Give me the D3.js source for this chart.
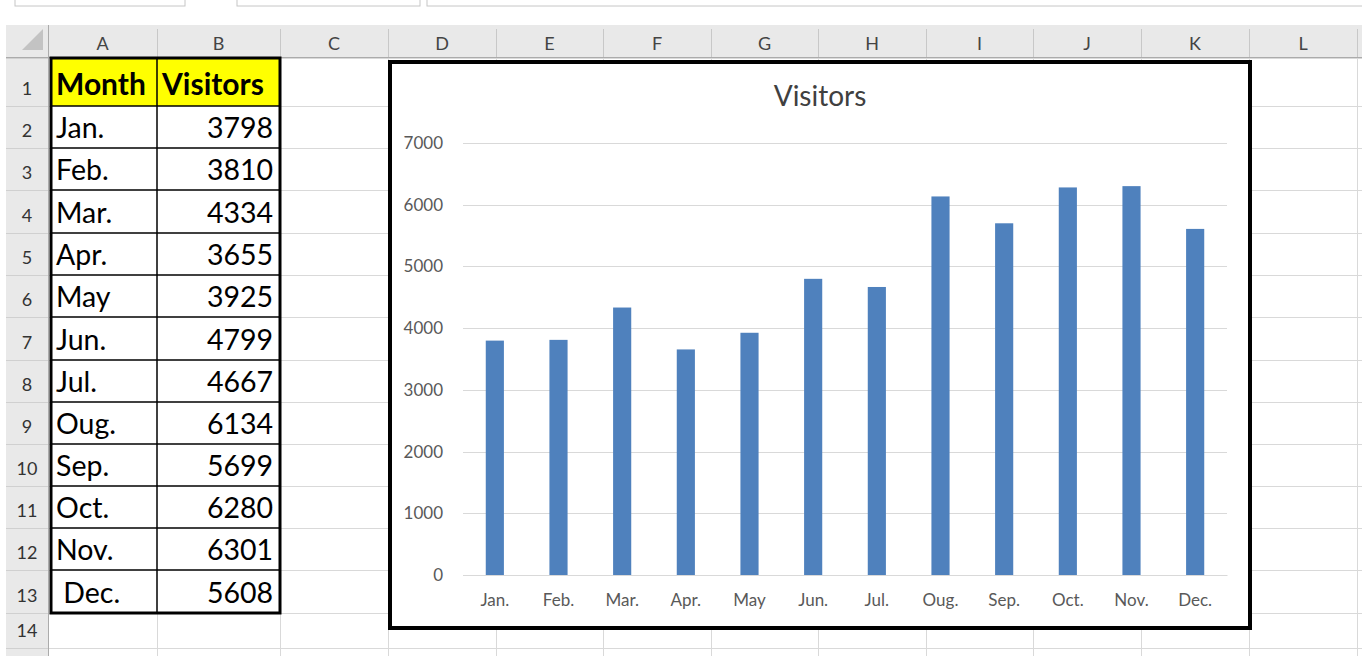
<!DOCTYPE html>
<html>
<head>
<meta charset="utf-8">
<script src="https://cdn.jsdelivr.net/npm/d3@7"></script>
<style>
  html, body { margin: 0; padding: 0; background: #ffffff; overflow: hidden; }
  svg { display: block; }
  text { font-family: Lato, "Open Sans", sans-serif; white-space: pre; }
</style>
</head>
<body>
<svg id="sheet" width="1362" height="656"></svg>
<script>
// ---------- data ----------
const months = ["Jan.", "Feb.", "Mar.", "Apr.", "May", "Jun.", "Jul.", "Oug.", "Sep.", "Oct.", "Nov.", " Dec."];
const visitors = [3798, 3810, 4334, 3655, 3925, 4799, 4667, 6134, 5699, 6280, 6301, 5608];
const yTicks = [0, 1000, 2000, 3000, 4000, 5000, 6000, 7000];
const tableHeaders = ["Month", "Visitors"];
const columnLetters = ["A", "B", "C", "D", "E", "F", "G", "H", "I", "J", "K", "L"];
const chartTitle = "Visitors";

// ---------- sheet layout ----------
const W = 1362, H = 656;
const colEdges = [48, 157, 280, 388, 496, 603, 711, 818, 926, 1033, 1141, 1249, 1357];
const rowEdges = [58, 106, 148, 190, 233, 275, 317, 360, 402, 444, 486, 528, 570, 613, 648, 690];
const headTop = 25, headBottom = 57, rowHeadLeft = 6;

const svg = d3.select("#sheet");
svg.append("rect").attr("width", W).attr("height", H).attr("fill", "#ffffff");

// formula bar boxes
const boxes = [[15, 185], [237, 420], [427, 1400]];
svg.selectAll("rect.fbox").data(boxes).join("rect")
  .attr("x", d => d[0]).attr("y", -6).attr("width", d => d[1] - d[0]).attr("height", 12)
  .attr("fill", "#ffffff").attr("stroke", "#c6c6c6").attr("stroke-width", 1);

// cell gridlines
const grid = svg.append("g").attr("stroke", "#d9d9d9").attr("stroke-width", 1);
grid.selectAll("line.h").data(rowEdges).join("line")
  .attr("x1", colEdges[0]).attr("x2", W).attr("y1", d => d + 0.5).attr("y2", d => d + 0.5);
grid.selectAll("line.v").data(colEdges.slice(1)).join("line")
  .attr("x1", d => d + 0.5).attr("x2", d => d + 0.5).attr("y1", headBottom).attr("y2", H);

// column header band
svg.append("rect").attr("x", rowHeadLeft).attr("y", headTop).attr("width", W - rowHeadLeft).attr("height", headBottom - headTop).attr("fill", "#e9e9e9");
svg.append("line").attr("x1", rowHeadLeft).attr("x2", W).attr("y1", headBottom + 0.5).attr("y2", headBottom + 0.5).attr("stroke", "#ababab");
svg.selectAll("line.ch").data(colEdges).join("line")
  .attr("x1", d => d + 0.5).attr("x2", d => d + 0.5).attr("y1", headTop + 4).attr("y2", headBottom)
  .attr("stroke", "#c8c8c8");
svg.selectAll("text.col").data(columnLetters).join("text")
  .attr("x", (d, i) => (colEdges[i] + colEdges[i + 1]) / 2).attr("y", 50)
  .attr("text-anchor", "middle").attr("font-size", 18).attr("fill", "#444444").text(d => d);

// corner triangle
svg.append("path").attr("d", "M43,29 L43,50 L22,50 Z").attr("fill", "#c3c3c3");

// row header column
svg.append("rect").attr("x", rowHeadLeft).attr("y", headBottom + 1).attr("width", colEdges[0] - rowHeadLeft).attr("height", H - headBottom).attr("fill", "#e9e9e9");
svg.append("line").attr("x1", colEdges[0] + 0.5).attr("x2", colEdges[0] + 0.5).attr("y1", headTop).attr("y2", H).attr("stroke", "#ababab");
svg.selectAll("line.rh").data(rowEdges).join("line")
  .attr("x1", rowHeadLeft).attr("x2", colEdges[0]).attr("y1", d => d + 0.5).attr("y2", d => d + 0.5)
  .attr("stroke", "#d0d0d0");
const rowNums = d3.range(1, rowEdges.length - 1);
svg.selectAll("text.rn").data(rowNums).join("text")
  .attr("x", 27).attr("y", (d, i) => rowEdges[i + 1] - 11)
  .attr("text-anchor", "middle").attr("font-size", 18).attr("fill", "#333333").text(d => d);

// ---------- data table ----------
const tX0 = 51, tX1 = colEdges[1], tX2 = colEdges[2];
const tbl = svg.append("g");
tbl.append("rect").attr("x", tX0).attr("y", rowEdges[0]).attr("width", tX2 - tX0).attr("height", rowEdges[1] - rowEdges[0]).attr("fill", "#ffff00");
tbl.append("rect").attr("x", tX0).attr("y", rowEdges[1]).attr("width", tX2 - tX0).attr("height", rowEdges[13] - rowEdges[1]).attr("fill", "#ffffff");
tbl.selectAll("line.tr").data(rowEdges.slice(1, 13)).join("line")
  .attr("x1", tX0).attr("x2", tX2).attr("y1", d => d).attr("y2", d => d)
  .attr("stroke", "#000").attr("stroke-width", 1.5);
tbl.append("line").attr("x1", tX1).attr("x2", tX1).attr("y1", rowEdges[0]).attr("y2", rowEdges[13]).attr("stroke", "#000").attr("stroke-width", 1.5);
tbl.append("rect").attr("x", tX0).attr("y", rowEdges[0]).attr("width", tX2 - tX0).attr("height", rowEdges[13] - rowEdges[0])
  .attr("fill", "none").attr("stroke", "#000").attr("stroke-width", 3);

tbl.selectAll("text.hd").data(tableHeaders).join("text")
  .attr("x", (d, i) => i === 0 ? 56 : 162).attr("y", rowEdges[1] - 11)
  .attr("font-size", 30).attr("font-weight", "bold").attr("fill", "#000").text(d => d);
tbl.selectAll("text.mo").data(months).join("text")
  .attr("x", 56).attr("y", (d, i) => rowEdges[i + 2] - 10)
  .attr("font-size", 28.5).attr("fill", "#000").text(d => d);
tbl.selectAll("text.val").data(visitors).join("text")
  .attr("x", 273).attr("y", (d, i) => rowEdges[i + 2] - 10)
  .attr("text-anchor", "end").attr("font-size", 28.5).attr("fill", "#000").text(d => d);

// ---------- chart ----------
const cx0 = 390, cy0 = 62, cx1 = 1250, cy1 = 628;
const chart = svg.append("g");
chart.append("rect").attr("x", cx0).attr("y", cy0).attr("width", cx1 - cx0).attr("height", cy1 - cy0)
  .attr("fill", "#ffffff").attr("stroke", "#000000").attr("stroke-width", 4);

const plot = { left: 463, right: 1227, top: 143, bottom: 575 };
const x = d3.scaleBand().domain(months).range([plot.left, plot.right]).paddingInner(0.715).paddingOuter(0.3575);
const y = d3.scaleLinear().domain([0, 7000]).range([plot.bottom, plot.top]);

chart.append("g").selectAll("line").data(yTicks).join("line")
  .attr("x1", plot.left).attr("x2", plot.right)
  .attr("y1", d => Math.round(y(d)) + 0.5).attr("y2", d => Math.round(y(d)) + 0.5)
  .attr("stroke", "#d9d9d9").attr("stroke-width", 1);

const yAxis = chart.append("g").attr("transform", `translate(${plot.left},0)`)
  .call(d3.axisLeft(y).tickValues(yTicks).tickSize(0).tickPadding(20).tickFormat(d3.format("d")));
yAxis.select(".domain").remove();
yAxis.selectAll("text").attr("font-family", "Lato, sans-serif").attr("font-size", 17).attr("fill", "#595959");

chart.append("g").selectAll("rect").data(visitors).join("rect")
  .attr("x", (d, i) => x(months[i])).attr("width", x.bandwidth())
  .attr("y", d => y(d)).attr("height", d => y(0) - y(d))
  .attr("fill", "#4f81bd");

const xAxis = chart.append("g").attr("transform", `translate(0,${plot.bottom})`)
  .call(d3.axisBottom(x).tickSize(0).tickPadding(19).tickFormat(d => d.trim()));
xAxis.select(".domain").attr("stroke", "#d9d9d9");
xAxis.selectAll("text").attr("font-family", "Lato, sans-serif").attr("font-size", 17).attr("fill", "#595959");

chart.append("text").attr("x", (cx0 + cx1) / 2).attr("y", 106).attr("text-anchor", "middle")
  .attr("font-size", 28).attr("fill", "#404040").text(chartTitle);
</script>
</body>
</html>
